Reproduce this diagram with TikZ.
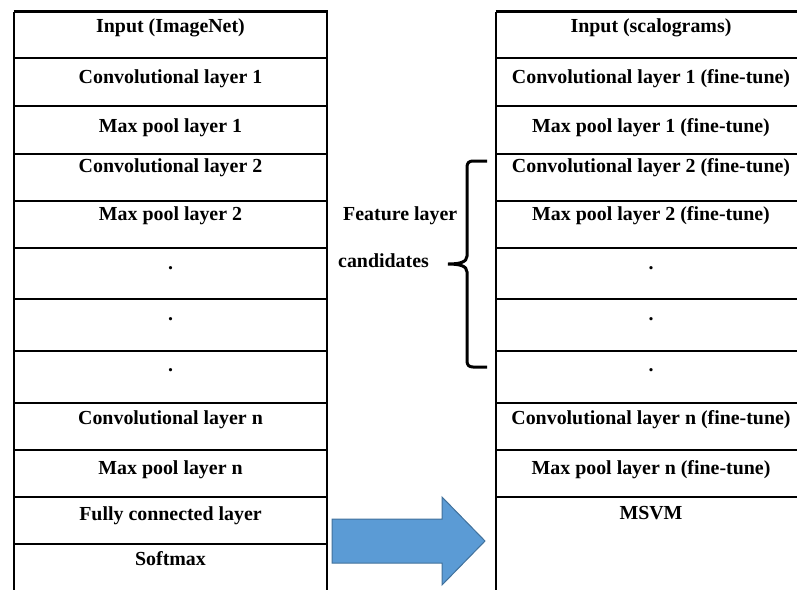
\documentclass[tikz,border=0pt]{standalone}
\usepackage{fontspec}
\setmainfont{Liberation Serif}
\definecolor{arrowfill}{RGB}{91,155,213}
\definecolor{arrowedge}{RGB}{65,113,156}

\begin{document}
\begin{tikzpicture}[x=1pt, y=-1pt, every node/.style={font=\fontsize{19.9}{24}\selectfont\bfseries, inner sep=0pt},
		layer/.style={anchor=base},
		rule/.style={line width=1.1pt},
		heavy/.style={line width=2.2pt}]
		\useasboundingbox (0,0) rectangle (797,590);

		% Table frames
		\draw[rule] (14,11.5) -- (14,590);
		\draw[rule] (327,11.5) -- (327,590);
		\draw[rule] (496,11.5) -- (496,590);

		% Row rules
		\foreach \y in {58,106,154,201,248,299,351,497,544}
			\draw[rule] (14,\y) -- (327,\y);
		\foreach \y in {58,106,154,201,248,299,351,497}
			\draw[rule] (496,\y) -- (797,\y);
		\foreach \y in {11.5,403,450} {
			\draw[heavy] (13.5,\y) -- (327.5,\y);
			\draw[heavy] (495.5,\y) -- (797,\y);
		}

		% Pretrained network
		\node[layer] (inA)   at (170.5,32) {Input (ImageNet)};
		\node[layer] (convA) at (170.5,83) {Convolutional layer 1};
		\node[layer] (poolA) at (170.5,132) {Max pool layer 1};
		\node[layer] (convB) at (170.5,172) {Convolutional layer 2};
		\node[layer] (poolB) at (170.5,220) {Max pool layer 2};
		\node[layer] (dotA)  at (170.5,269) {.};
		\node[layer] (dotB)  at (170.5,320) {.};
		\node[layer] (dotC)  at (170.5,371) {.};
		\node[layer] (convN) at (170.5,424) {Convolutional layer n};
		\node[layer] (poolN) at (170.5,474) {Max pool layer n};
		\node[layer] (fc)    at (170.5,520) {Fully connected layer};
		\node[layer] (soft)  at (170.5,565) {Softmax};

		% Fine-tuned network
		\node[layer] (inR)   at (651,32) {Input (scalograms)};
		\node[layer] (convR) at (651,83) {Convolutional layer 1 (fine-tune)};
		\node[layer] (poolR) at (651,132) {Max pool layer 1 (fine-tune)};
		\node[layer] (convS) at (651,172) {Convolutional layer 2 (fine-tune)};
		\node[layer] (poolS) at (651,220) {Max pool layer 2 (fine-tune)};
		\node[layer] (dotR)  at (651,269) {.};
		\node[layer] (dotS)  at (651,320) {.};
		\node[layer] (dotT)  at (651,371) {.};
		\node[layer] (convM) at (651,424) {Convolutional layer n (fine-tune)};
		\node[layer] (poolM) at (651,474) {Max pool layer n (fine-tune)};
		\node[layer] (msvm)  at (651,519) {MSVM};

		% Candidates and brace
		\node[anchor=base west] (feat) at (343,220) {Feature layer};
		\node[anchor=base west] (cand) at (338,267) {candidates};
		\coordinate (bracetop) at (487,161);
		\coordinate (bracebot) at (487,367);
		\coordinate (bracetip) at (448,264);
		\draw[line width=3pt] (bracetop) -- (473,161) .. controls (469,161) and (467,163) .. (467,167)
			-- (467,256) .. controls (467,262) and (460,264) .. (bracetip)
			.. controls (460,264) and (467,266) .. (467,272)
			-- (467,361) .. controls (467,365) and (469,367) .. (473,367) -- (bracebot);

		% Transfer arrow
		\draw[fill=arrowfill, draw=arrowedge, line width=1pt]
			(332,519) -- (442,519) -- (442,497) -- (485,541) -- (442,585) -- (442,563) -- (332,563) -- cycle;
	\end{tikzpicture}
\end{document}
